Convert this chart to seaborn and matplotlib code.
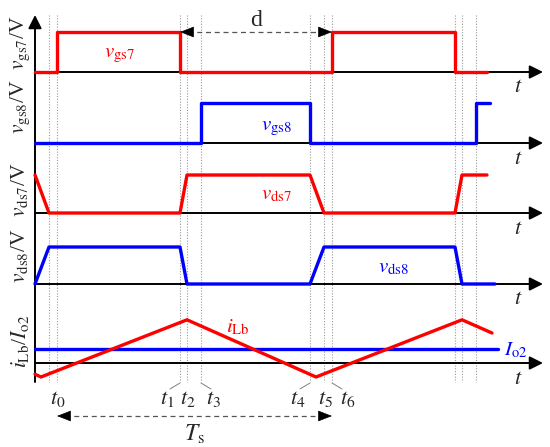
import matplotlib
matplotlib.use("Agg")
import matplotlib.pyplot as plt
import seaborn as sns

# switching instants (time units measured from the vertical axis)
t_edges = [14, 22, 145, 152, 166, 275, 289, 297, 420, 427, 441]
edge_names = ["", "$t_0$", "$t_1$", "$t_2$", "$t_3$", "$t_4$", "$t_5$", "$t_6$", "", "", ""]

# gate and drain-source waveforms, normalised 0/1 levels
vgs7_t = [0, 22, 22, 145, 145, 297, 297, 420, 420, 452]
vgs7_v = [0, 0, 1, 1, 0, 0, 1, 1, 0, 0]
vgs8_t = [0, 166, 166, 275, 275, 441, 441, 455]
vgs8_v = [0, 0, 1, 1, 0, 0, 1, 1]
vds7_t = [0, 14, 145, 152, 275, 289, 420, 427, 452]
vds7_v = [1, 0, 0, 1, 1, 0, 0, 1, 1]
vds8_t = [0, 14, 145, 152, 275, 289, 420, 427, 460]
vds8_v = [0, 1, 1, 0, 0, 1, 1, 0, 0]
ilb_t = [0, 6, 152, 281, 427, 457]
ilb_v = [-0.28, -0.35, 1.08, -0.35, 1.08, 0.75]
io2_t = [0, 463]
io2_v = [0.35, 0.35]

ylabels = ["$v_{\\rm gs7}$/V", "$v_{\\rm gs8}$/V", "$v_{\\rm ds7}$/V",
           "$v_{\\rm ds8}$/V", "$i_{\\rm Lb}$/$I_{\\rm o2}$"]

RED = "#ff0000"
BLUE = "#0000ff"

sns.set_style("white")
plt.rcParams["font.family"] = ["Liberation Serif", "DejaVu Serif"]
plt.rcParams["mathtext.fontset"] = "stix"

fig = plt.figure(figsize=(5.5, 4.47), dpi=100)
ax = fig.add_axes([0, 0, 1, 1])

# panel layout (figure pixels, y downwards)
bases = [72, 143, 213, 284, 363]
heights = [40, 40, 38, 37, 40]
ylab_y = [43, 107, 190, 256, 341]
top, bottom, t_end = 15, 382, 508

# dotted guide lines
ax.vlines(t_edges, top, bottom, colors="#9a9a9a", linestyles=(0, (1, 1.5)), lw=0.8, zorder=1)

# axes with arrows
head = "-|>,head_length=0.8,head_width=0.4"
ax.annotate("", xy=(0, top), xytext=(0, bottom),
            arrowprops=dict(arrowstyle=head, color="black", lw=1.4, shrinkA=0, shrinkB=0))
for b, lab_y, lab in zip(bases, ylab_y, ylabels):
    ax.annotate("", xy=(t_end, b), xytext=(0, b),
                arrowprops=dict(arrowstyle=head, color="black", lw=1.4, shrinkA=0, shrinkB=0))
    ax.text(483, b + 16, "$t$", fontsize=16, ha="center", va="center")
    ax.text(-15, lab_y, lab, fontsize=15.5, rotation=90, ha="center", va="center")

waves = [
    (vgs7_t, vgs7_v, 0, RED),
    (vgs8_t, vgs8_v, 1, BLUE),
    (vds7_t, vds7_v, 2, RED),
    (vds8_t, vds8_v, 3, BLUE),
    (io2_t, io2_v, 4, BLUE),
    (ilb_t, ilb_v, 4, RED),
]
for t, v, k, c in waves:
    y = [bases[k] - lv * heights[k] for lv in v]
    sns.lineplot(x=t, y=y, sort=False, estimator=None, color=c, lw=2.4, ax=ax, zorder=3)

# waveform names
ax.text(84, 55, "$v_{\\rm gs7}$", color=RED, fontsize=15, ha="center", va="center")
ax.text(241, 128, "$v_{\\rm gs8}$", color=BLUE, fontsize=15, ha="center", va="center")
ax.text(241, 195, "$v_{\\rm ds7}$", color=RED, fontsize=15, ha="center", va="center")
ax.text(358, 268, "$v_{\\rm ds8}$", color=BLUE, fontsize=15, ha="center", va="center")
ax.text(203, 327, "$i_{\\rm Lb}$", color=RED, fontsize=15, ha="center", va="center")
ax.text(481, 350, "$I_{\\rm o2}$", color=BLUE, fontsize=15, ha="center", va="center")

# instant labels with small leaders
label_shift = [0, 1, -13, 1, 12, -12, 1, 16, 0, 0, 0]
for te, name, dx in zip(t_edges, edge_names, label_shift):
    if not name:
        continue
    ax.text(te + dx, 399, name, fontsize=16, ha="center", va="center")
    if abs(dx) > 5:
        sgn = 1 if dx > 0 else -1
        ax.plot([te, te + sgn * 10], [383, 389], color="#808080", lw=0.7)


def dim_arrow(x0, x1, y):
    ax.plot([x0 + 8, x1 - 8], [y, y], color="#555555", lw=0.9, ls=(0, (4, 3)))
    for tip, back in ((x0, x0 + 2), (x1, x1 - 2)):
        ax.annotate("", xy=(tip, y), xytext=(back, y),
                    arrowprops=dict(arrowstyle="-|>,head_length=0.9,head_width=0.35",
                                    color="black", lw=0.5, shrinkA=0, shrinkB=0))


dim_arrow(t_edges[2], t_edges[7], bases[0] - heights[0])
ax.text((t_edges[2] + t_edges[7]) / 2, 21, "d", fontsize=17, ha="center", va="center")
dim_arrow(t_edges[1], t_edges[7], 416)
ax.text((t_edges[1] + t_edges[7]) / 2, 434, "$T_{\\rm s}$", fontsize=17, ha="center", va="center")

ax.set_xlim(-35, 515)
ax.set_ylim(447, 0)
ax.axis("off")
fig.savefig("out.png", dpi=100)
